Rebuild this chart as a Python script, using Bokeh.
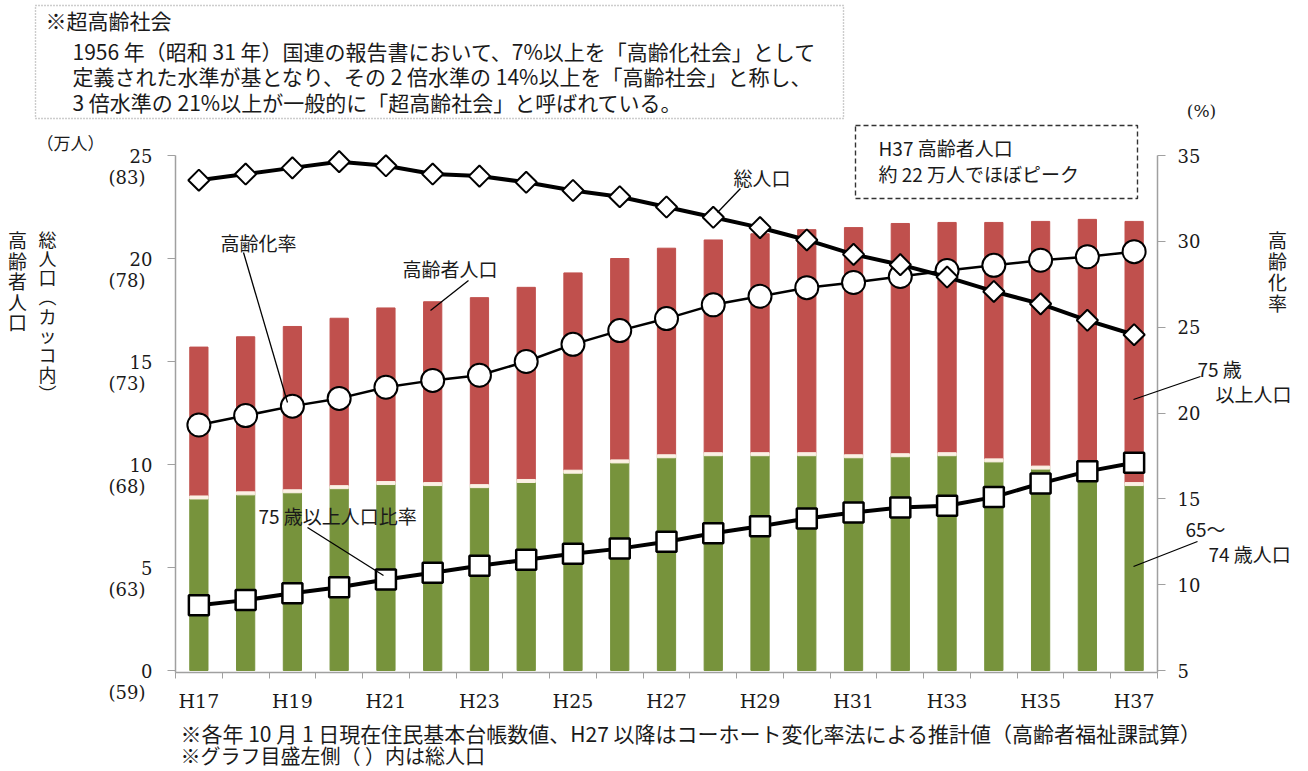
import math
from bokeh.plotting import figure
from bokeh.models import Range1d, LinearAxis, FixedTicker, Label, Arrow, PolyAnnotation
from bokeh.embed import file_html
from bokeh.resources import INLINE

# ---------------- data ----------------
years = ["H17", "H18", "H19", "H20", "H21", "H22", "H23", "H24", "H25", "H26", "H27",
         "H28", "H29", "H30", "H31", "H32", "H33", "H34", "H35", "H36", "H37"]
# 65~74歳人口 (万人)
pop_65_74 = [8.4, 8.6, 8.7, 8.9, 9.1, 9.05, 8.95, 9.2, 9.65, 10.15, 10.4,
             10.5, 10.5, 10.5, 10.4, 10.45, 10.5, 10.2, 9.85, 9.5, 9.05]
# 高齢者人口 合計 (万人)
elderly_total = [15.7, 16.2, 16.7, 17.1, 17.6, 17.9, 18.1, 18.6, 19.3, 20.0, 20.5,
                 20.9, 21.2, 21.4, 21.5, 21.7, 21.75, 21.75, 21.8, 21.9, 21.8]
# 総人口 (万人)
total_pop = [81.8, 82.1, 82.4, 82.7, 82.5, 82.1, 82.0, 81.7, 81.3, 81.0, 80.5,
             80.0, 79.5, 78.9, 78.2, 77.7, 77.1, 76.4, 75.8, 75.0, 74.3]
# 高齢化率 (%)
aging_rate = [19.3, 19.85, 20.4, 20.85, 21.5, 21.9, 22.2, 23.0, 24.0, 24.8, 25.5,
              26.3, 26.8, 27.3, 27.6, 27.95, 28.3, 28.6, 28.9, 29.1, 29.4]
# 75歳以上人口比率 (%)
over75_rate = [8.8, 9.1, 9.5, 9.85, 10.3, 10.7, 11.1, 11.45, 11.8, 12.1, 12.5,
               13.0, 13.4, 13.85, 14.2, 14.5, 14.6, 15.1, 15.9, 16.6, 17.1]

left_ticks = [0, 5, 10, 15, 20, 25]
left_pop_labels = ["(59)", "(63)", "(68)", "(73)", "(78)", "(83)"]
right_ticks = [5, 10, 15, 20, 25, 30, 35]

# ---------------- style ----------------
JP = "Noto Sans CJK JP"
SERIF = "DejaVu Serif"
RED = "#c0504d"
GREEN = "#77933c"
AXIS_GRAY = "#a0a0a0"
TXT = "#1a1a1a"

W, H = 1306, 770
# chart region in canvas pixels
FL, FR = 175, 1157          # x = -0.5 .. 20.5
Y0, Y25 = 670, 155          # left 0 .. 25 ; right 5 .. 35
XPX = (FR - FL) / 21.0
LPX = (Y0 - Y25) / 25.0
RPX = (Y0 - Y25) / 30.0


def xd(X):
    return -0.5 + (X - FL) / XPX


def yd(Y):
    return (Y0 - Y) / LPX


def yp(Y):
    return 5 + (Y0 - Y) / RPX


def ypop(Y):
    return 58 + (Y0 - Y) / LPX


p = figure(width=W, height=H,
           x_range=Range1d(xd(0), xd(W)), y_range=Range1d(yd(H), yd(0)),
           output_backend="svg", toolbar_location=None, min_border=0)
p.extra_y_ranges = {"pct": Range1d(yp(H), yp(0)), "pop": Range1d(ypop(H), ypop(0))}
p.xgrid.visible = False
p.ygrid.visible = False
p.outline_line_color = None
p.background_fill_color = "white"
p.border_fill_color = "white"

x = list(range(len(years)))

# bars
p.vbar(x=x, bottom=0, top=pop_65_74, width=0.39, color=GREEN)
p.vbar(x=x, bottom=pop_65_74, top=elderly_total, width=0.39, color=RED)
p.rect(x=x, y=pop_65_74, width=0.39, height=3, height_units="screen",
       color="#fbf1e4")

# 高齢化率 (circles)
p.line(x, aging_rate, y_range_name="pct", line_width=2.5, color="black")
p.scatter(x, aging_rate, y_range_name="pct", marker="circle", size=23,
          fill_color="white", line_color="black", line_width=2)

# 総人口 (diamonds)
p.line(x, total_pop, y_range_name="pop", line_width=4, color="black")
p.scatter(x, total_pop, y_range_name="pop", marker="square", angle=math.pi / 4,
          size=15, fill_color="white", line_color="black", line_width=2)

# 75歳以上人口比率 (squares)
p.line(x, over75_rate, y_range_name="pct", line_width=4, color="black")
p.scatter(x, over75_rate, y_range_name="pct", marker="square", size=20,
          fill_color="white", line_color="black", line_width=2.5)

# ---------------- axes ----------------
x_axis_y = yd(672)

la = p.yaxis[0]
la.fixed_location = -0.5
la.bounds = (x_axis_y, 25)
la.ticker = FixedTicker(ticks=left_ticks)
la.axis_line_color = AXIS_GRAY
la.axis_line_width = 1.5
la.major_tick_line_color = AXIS_GRAY
la.major_tick_out = 8
la.major_tick_in = 0
la.minor_tick_line_color = None
la.major_label_standoff = 15
la.major_label_text_font = SERIF
la.major_label_text_font_size = "18px"
la.major_label_text_color = TXT

ra = LinearAxis(y_range_name="pct", ticker=FixedTicker(ticks=right_ticks))
ra.fixed_location = 20.5
ra.bounds = (yp(672), 35)
ra.axis_line_color = AXIS_GRAY
ra.axis_line_width = 1.5
ra.major_tick_line_color = AXIS_GRAY
ra.major_tick_out = 8
ra.major_tick_in = 0
ra.minor_tick_line_color = None
ra.major_label_standoff = 12
ra.major_label_text_font = SERIF
ra.major_label_text_font_size = "18px"
ra.major_label_text_color = TXT
p.add_layout(ra, "right")

xa = p.xaxis[0]
xa.fixed_location = x_axis_y
xa.bounds = (-0.5, 20.5)
xa.ticker = FixedTicker(ticks=list(range(0, len(years), 2)),
                        minor_ticks=[i - 0.5 for i in range(len(years) + 1)])
xa.major_label_overrides = {i: years[i] for i in range(0, len(years), 2)}
xa.axis_line_color = AXIS_GRAY
xa.axis_line_width = 1.5
xa.major_tick_line_color = None
xa.major_tick_out = 0
xa.major_tick_in = 0
xa.minor_tick_line_color = AXIS_GRAY
xa.minor_tick_out = 6
xa.minor_tick_in = 0
xa.major_label_standoff = 11
xa.major_label_text_font = SERIF
xa.major_label_text_font_size = "19px"
xa.major_label_text_color = TXT


# ---------------- annotations ----------------
def label(X, Y, text, size=18, font=JP, align="left", baseline="middle",
          color=TXT):
    p.add_layout(Label(x=xd(X), y=yd(Y), text=text, text_font=font,
                       text_font_size=f"{size}px", text_align=align,
                       text_baseline=baseline, text_color=color))


def vlabel(X, Ytop, text, step, size):
    for i, ch in enumerate(text):
        label(X, Ytop + i * step, ch, size=size, align="center")


def box(X0, Y0_, X1, Y1, dash, color):
    p.add_layout(PolyAnnotation(xs=[xd(X0), xd(X1), xd(X1), xd(X0)],
                                ys=[yd(Y0_), yd(Y0_), yd(Y1), yd(Y1)],
                                line_color=color, line_alpha=1.0, line_dash=dash,
                                line_width=1.4, fill_color="white", fill_alpha=1.0))


def leader(X0, Y0_, X1, Y1):
    p.add_layout(Arrow(end=None, x_start=xd(X0), y_start=yd(Y0_),
                       x_end=xd(X1), y_end=yd(Y1), line_color="black",
                       line_width=1.3))


# total-population values in parentheses, under each left tick number
for t, lab in zip(left_ticks, left_pop_labels):
    p.add_layout(Label(x=xd(145), y=t - 22 / LPX, text=lab, text_font=SERIF,
                       text_font_size="18px", text_align="right",
                       text_baseline="middle", text_color=TXT))

# top explanatory box
box(35, 5, 843, 118, "1 2", "#9a9a9a")
label(45, 19, "※超高齢社会", size=21)
label(72, 50, "1956 年（昭和 31 年）国連の報告書において、7%以上を「高齢化社会」として", size=21)
label(72, 75, "定義された水準が基となり、その 2 倍水準の 14%以上を「高齢社会」と称し、", size=21)
label(72, 101, "3 倍水準の 21%以上が一般的に「超高齢社会」と呼ばれている。", size=21)

# peak box
box(855, 125, 1137, 198, "5 3", "#333333")
label(878, 147, "H37 高齢者人口", size=19)
label(878, 173, "約 22 万人でほぼピーク", size=19)

# axis unit labels
label(70, 142, "（万人）", size=17, align="center")
label(1201, 110, "(%)", size=17, font=SERIF, align="center")
vlabel(17, 239, "高齢者人口", 20.5, 19)
vlabel(47, 238, "総人口︵カッコ内︶", 19.3, 18)
vlabel(1277, 239, "高齢化率", 21, 19)

# callouts
label(733, 177, "総人口", size=19)
leader(740, 188, 717, 212)
label(220, 242, "高齢化率", size=19)
leader(243, 252, 287, 402)
label(402, 268, "高齢者人口", size=19)
leader(468, 280, 430, 310)
label(258, 515, "75 歳以上人口比率", size=19)
leader(307, 527, 383, 575)
label(1197, 368, "75 歳", size=19)
label(1215, 393, "以上人口", size=19)
leader(1200, 376, 1133, 399)
label(1185, 528, "65～", size=19)
label(1208, 553, "74 歳人口", size=19)
leader(1197, 541, 1133, 566)

# notes
label(180, 732, "※各年 10 月 1 日現在住民基本台帳数値、H27 以降はコーホート変化率法による推計値（高齢者福祉課試算）", size=21)
label(180, 755, "※グラフ目盛左側（ ）内は総人口", size=20)

open("out.html", "w").write(file_html(p, INLINE))
